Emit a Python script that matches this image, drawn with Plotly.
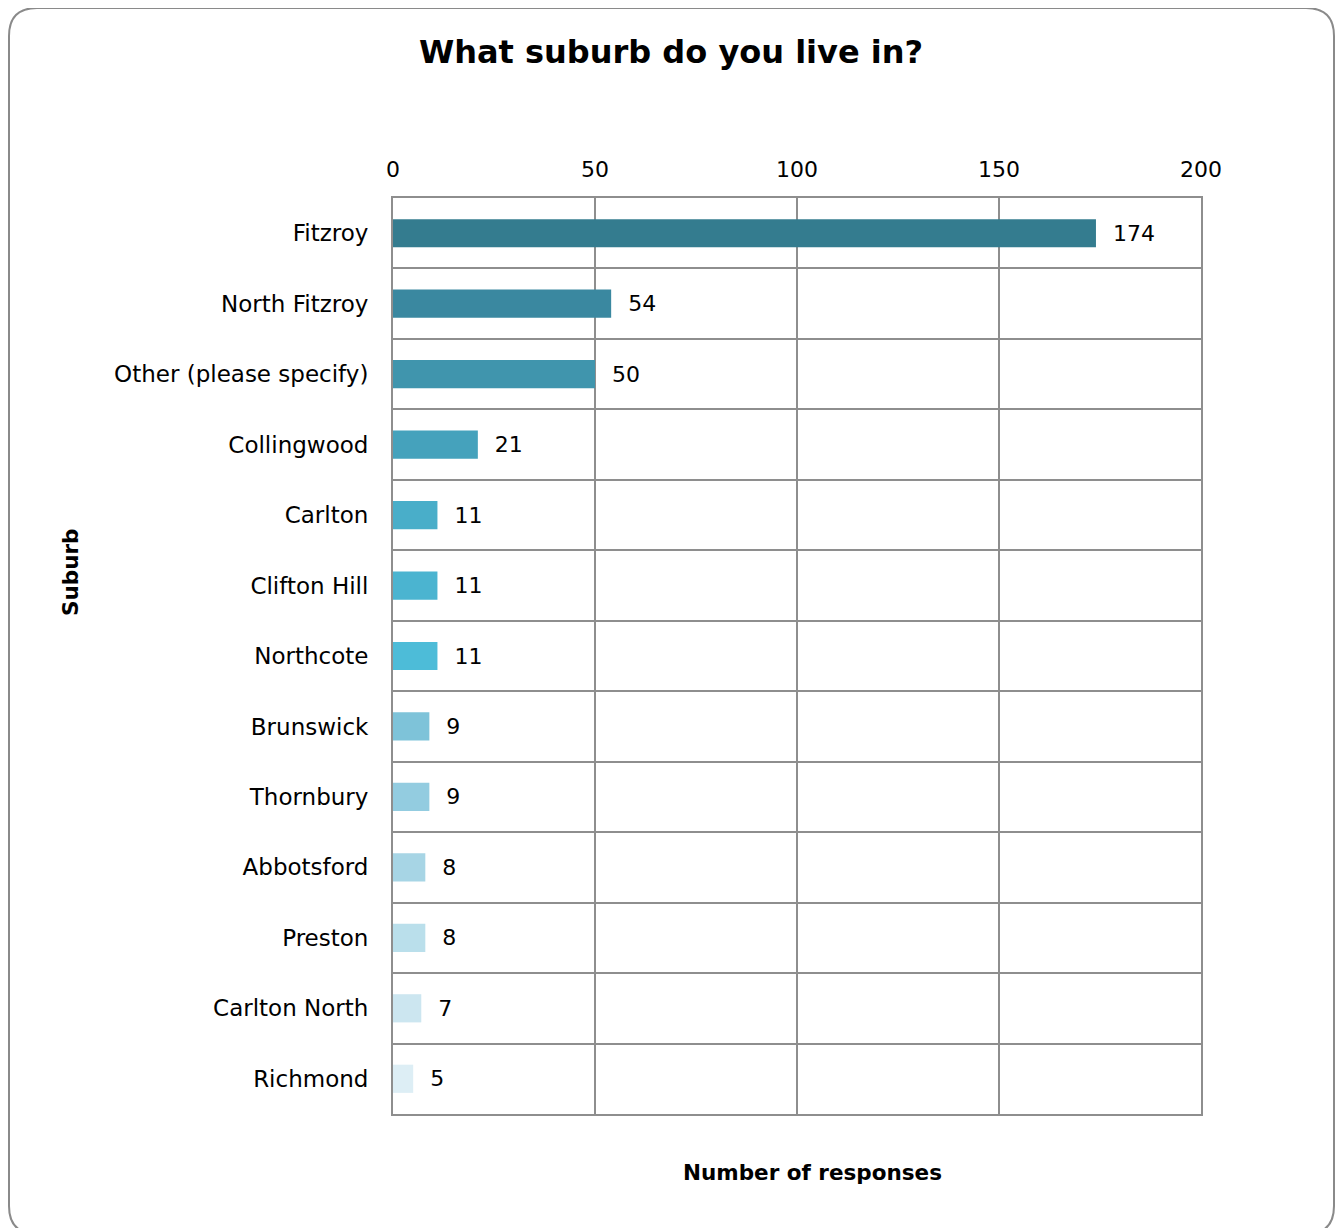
import plotly.graph_objects as go

categories = ["Fitzroy", "North Fitzroy", "Other (please specify)", "Collingwood", "Carlton",
              "Clifton Hill", "Northcote", "Brunswick", "Thornbury", "Abbotsford", "Preston",
              "Carlton North", "Richmond"]
values = [174, 54, 50, 21, 11, 11, 11, 9, 9, 8, 8, 7, 5]
bar_colors = ["#347c8f", "#3a88a0", "#4095ad", "#45a2bc", "#49aec9", "#4bb4d0", "#4dbcd8",
              "#7ec3d9", "#93cce0", "#a7d5e5", "#badfeb", "#cce6f0", "#ddeef5"]
x_ticks = [0, 50, 100, 150, 200]

FONT = "DejaVu Sans"
GRID = "#8e8e8e"
OFF = 8  # page body margin
W, H = 1344 - OFF, 1228 - OFF
n = len(categories)
ypos = list(range(n))

# plot area in screen px
PL, PR, PT, PB = 393, 1201, 198, 1114

fig = go.Figure()
fig.add_trace(go.Bar(
    x=values, y=ypos, orientation="h",
    marker=dict(color=bar_colors, line=dict(width=0)),
    width=0.4,
    text=values, texttemplate="  %{x}", textposition="outside",
    textfont=dict(family=FONT, size=22, color="#000000"),
    cliponaxis=False,
    hoverinfo="skip",
))

fig.update_layout(
    width=W, height=H,
    margin=dict(l=PL - OFF, r=W - (PR - OFF), t=PT - OFF, b=H - (PB - OFF)),
    paper_bgcolor="white", plot_bgcolor="white",
    showlegend=False,
    title=dict(text="<b>What suburb do you live in?</b>", x=(671 - OFF) / W, xref="container",
               xanchor="center",
               y=1 - (52 - OFF) / H, yref="container", yanchor="middle",
               font=dict(family=FONT, size=32, color="#000000")),
    font=dict(family=FONT, color="#000000"),
)

fig.update_xaxes(
    side="top", range=[0, 200], tickvals=x_ticks, ticktext=[str(v) for v in x_ticks],
    showgrid=True, gridcolor=GRID, gridwidth=2,
    showline=True, linecolor=GRID, linewidth=2, mirror=True,
    zeroline=False, ticks="", ticklabelstandoff=10,
    tickfont=dict(family=FONT, size=22, color="#000000"),
)
fig.update_yaxes(
    range=[n - 0.5, -0.5], tickmode="array", tickvals=ypos, ticktext=categories,
    showgrid=False, zeroline=False,
    showline=True, linecolor=GRID, linewidth=2, mirror=True,
    ticks="", ticklabelstandoff=18,
    tickfont=dict(family=FONT, size=23, color="#000000"),
    minor=dict(tickmode="array", tickvals=[i + 0.5 for i in range(n - 1)],
               showgrid=True, gridcolor=GRID, gridwidth=2, ticks=""),
)

def px(xs):
    return (xs - PL) / (PR - PL)
def py(ys):
    return (PB - ys) / (PB - PT)

# axis titles
fig.add_annotation(text="<b>Number of responses</b>", xref="paper", yref="paper",
                   x=px(812), y=py(1172), showarrow=False,
                   xanchor="center", yanchor="middle",
                   font=dict(family=FONT, size=21.5, color="#000000"))
fig.add_annotation(text="<b>Suburb</b>", xref="paper", yref="paper",
                   x=px(70), y=py(573), showarrow=False, textangle=-90,
                   xanchor="center", yanchor="middle",
                   font=dict(family=FONT, size=21.5, color="#000000"))

# rounded outer border (screen px converted to paper coordinates)
L, R, T, B, rad = 9, 1334, 8, 1234, 28
path = (f"M {px(L+rad)},{py(T)} L {px(R-rad)},{py(T)} Q {px(R)},{py(T)} {px(R)},{py(T+rad)} "
        f"L {px(R)},{py(B-rad)} Q {px(R)},{py(B)} {px(R-rad)},{py(B)} "
        f"L {px(L+rad)},{py(B)} Q {px(L)},{py(B)} {px(L)},{py(B-rad)} "
        f"L {px(L)},{py(T+rad)} Q {px(L)},{py(T)} {px(L+rad)},{py(T)} Z")
fig.add_shape(type="path", path=path, xref="paper", yref="paper",
              line=dict(color="#8a8a8a", width=2), fillcolor="rgba(0,0,0,0)", layer="below")

fig.write_html("out.html")
